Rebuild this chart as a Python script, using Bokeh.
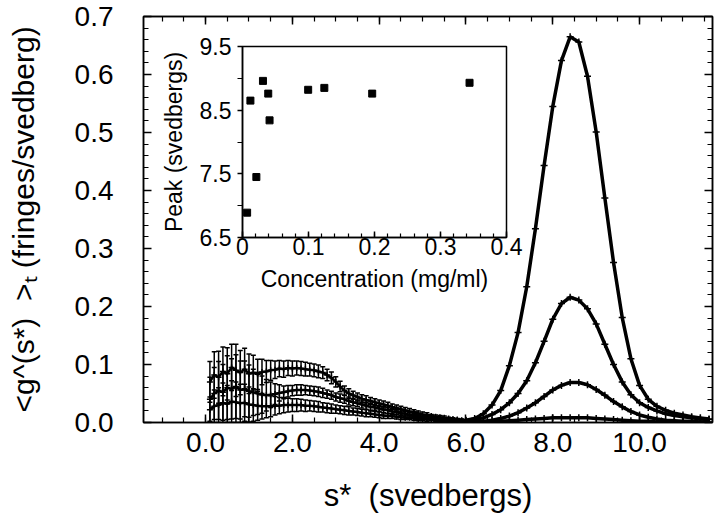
from bokeh.plotting import figure
from bokeh.models import (Range1d, FixedTicker, PrintfTickFormatter, LinearAxis,
                          Whisker, TeeHead, ColumnDataSource, CustomLabelingPolicy)
from bokeh.embed import file_html
from bokeh.resources import INLINE

FONT = "Liberation Sans"

# ---------------- main chart data ----------------
peak_s = [5.8, 6.0, 6.2, 6.4, 6.6, 6.8, 7.0, 7.2, 7.4, 7.6, 7.8, 8.0, 8.2, 8.4, 8.6,
          8.8, 9.0, 9.2, 9.4, 9.6, 9.8, 10.0, 10.2, 10.4, 10.6, 10.8, 11.0, 11.2, 11.4, 11.6]
curve_a = [0.003, 0.004, 0.007, 0.015, 0.030, 0.055, 0.098, 0.155, 0.234, 0.334, 0.443, 0.545,
           0.624, 0.665, 0.656, 0.597, 0.501, 0.387, 0.276, 0.181, 0.110, 0.064, 0.040, 0.028,
           0.021, 0.016, 0.013, 0.010, 0.008, 0.006]
curve_b = [0.002, 0.003, 0.005, 0.008, 0.014, 0.022, 0.034, 0.050, 0.072, 0.103, 0.140, 0.178,
           0.205, 0.216, 0.211, 0.196, 0.170, 0.135, 0.100, 0.070, 0.048, 0.034, 0.026, 0.020,
           0.015, 0.012, 0.010, 0.008, 0.006, 0.005]
curve_c = [0.000, 0.001, 0.001, 0.002, 0.004, 0.007, 0.011, 0.017, 0.025, 0.034, 0.045, 0.056,
           0.064, 0.069, 0.069, 0.065, 0.057, 0.047, 0.036, 0.027, 0.019, 0.013, 0.009, 0.006,
           0.004, 0.003, 0.002, 0.002, 0.001, 0.001]
curve_d = [0.000, 0.000, 0.001, 0.001, 0.001, 0.002, 0.003, 0.004, 0.005, 0.006, 0.007, 0.008,
           0.008, 0.008, 0.008, 0.008, 0.007, 0.006, 0.005, 0.004, 0.003, 0.002, 0.002, 0.001,
           0.001, 0.001, 0.001, 0.000, 0.000, 0.000]

left_s = [0.1, 0.2, 0.3, 0.4, 0.5, 0.6, 0.7, 0.8, 0.9, 1.0,
          1.1, 1.2, 1.3, 1.4, 1.5, 1.6, 1.7, 1.8, 1.9, 2.0,
          2.1, 2.2, 2.3, 2.4, 2.5, 2.6, 2.7, 2.8, 2.9, 3.0,
          3.1, 3.2, 3.3, 3.4, 3.5, 3.6, 3.7, 3.8, 3.9, 4.0,
          4.1, 4.2, 4.3, 4.4, 4.5, 4.6, 4.7, 4.8, 4.9, 5.0,
          5.1, 5.2, 5.3, 5.4, 5.5, 5.6, 5.7, 5.8, 5.9]
hump_e = [0.070, 0.082, 0.078, 0.088, 0.084, 0.095, 0.090, 0.086, 0.092, 0.084,
          0.086, 0.083, 0.087, 0.088, 0.090, 0.091, 0.093, 0.092, 0.094, 0.093,
          0.094, 0.093, 0.092, 0.091, 0.090, 0.088, 0.086, 0.082, 0.077, 0.070,
          0.062, 0.055, 0.050, 0.047, 0.044, 0.041, 0.039, 0.037, 0.035, 0.033,
          0.031, 0.029, 0.027, 0.025, 0.023, 0.021, 0.019, 0.018, 0.016, 0.014,
          0.013, 0.011, 0.010, 0.009, 0.008, 0.007, 0.006, 0.005, 0.004]
hump_e_err = [0.035, 0.040, 0.045, 0.042, 0.045, 0.040, 0.045, 0.038, 0.036, 0.034,
              0.030, 0.026, 0.022, 0.019, 0.017, 0.015, 0.014, 0.014, 0.013, 0.013,
              0.012, 0.012, 0.012, 0.011, 0.011, 0.011, 0.010, 0.010, 0.010, 0.009,
              0.009, 0.008, 0.008, 0.007, 0.007, 0.007, 0.007, 0.006, 0.006, 0.006,
              0.006, 0.006, 0.005, 0.005, 0.005, 0.005, 0.005, 0.004, 0.004, 0.004,
              0.004, 0.003, 0.003, 0.003, 0.003, 0.002, 0.002, 0.002, 0.002]
hump_f = [0.040, 0.050, 0.055, 0.052, 0.060, 0.058, 0.062, 0.056, 0.058, 0.054,
          0.052, 0.050, 0.048, 0.047, 0.048, 0.049, 0.051, 0.052, 0.054, 0.055,
          0.056, 0.056, 0.056, 0.055, 0.054, 0.053, 0.051, 0.049, 0.047, 0.044,
          0.042, 0.040, 0.037, 0.035, 0.033, 0.031, 0.029, 0.027, 0.026, 0.024,
          0.022, 0.021, 0.019, 0.018, 0.016, 0.015, 0.013, 0.012, 0.011, 0.010,
          0.009, 0.008, 0.007, 0.006, 0.005, 0.005, 0.004, 0.004, 0.003]
hump_f_err = [0.038, 0.045, 0.050, 0.048, 0.055, 0.052, 0.055, 0.050, 0.048, 0.045,
              0.040, 0.036, 0.032, 0.027, 0.022, 0.018, 0.014, 0.011, 0.010, 0.009,
              0.009, 0.009, 0.008, 0.008, 0.008, 0.008, 0.008, 0.007, 0.007, 0.007,
              0.007, 0.007, 0.007, 0.006, 0.006, 0.006, 0.006, 0.006, 0.005, 0.005,
              0.005, 0.005, 0.005, 0.004, 0.004, 0.004, 0.004, 0.003, 0.003, 0.003,
              0.003, 0.003, 0.003, 0.002, 0.002, 0.002, 0.002, 0.002, 0.002]
hump_g = [0.022, 0.028, 0.030, 0.034, 0.032, 0.036, 0.035, 0.033, 0.034, 0.031,
          0.030, 0.029, 0.028, 0.028, 0.028, 0.029, 0.029, 0.030, 0.030, 0.030,
          0.030, 0.030, 0.029, 0.029, 0.028, 0.027, 0.026, 0.025, 0.024, 0.023,
          0.022, 0.021, 0.020, 0.019, 0.018, 0.017, 0.016, 0.015, 0.014, 0.013,
          0.012, 0.011, 0.011, 0.010, 0.009, 0.008, 0.008, 0.007, 0.006, 0.006,
          0.005, 0.005, 0.004, 0.004, 0.003, 0.003, 0.003, 0.002, 0.002]
hump_g_err = [0.022, 0.028, 0.030, 0.034, 0.032, 0.036, 0.035, 0.033, 0.032, 0.030,
              0.028, 0.025, 0.022, 0.020, 0.018, 0.016, 0.014, 0.013, 0.012, 0.011,
              0.011, 0.010, 0.010, 0.009, 0.009, 0.009, 0.008, 0.008, 0.008, 0.007,
              0.007, 0.007, 0.007, 0.006, 0.006, 0.006, 0.006, 0.005, 0.005, 0.005,
              0.005, 0.004, 0.004, 0.004, 0.004, 0.003, 0.003, 0.003, 0.003, 0.003,
              0.003, 0.002, 0.002, 0.002, 0.002, 0.002, 0.002, 0.001, 0.001]

x_major = [0, 2, 4, 6, 8, 10]
y_major = [0.0, 0.1, 0.2, 0.3, 0.4, 0.5, 0.6, 0.7]

# ---------------- inset data ----------------
inset_conc = [0.007, 0.012, 0.021, 0.031, 0.039, 0.041, 0.0995, 0.124, 0.1965, 0.344]
inset_peak = [6.89, 8.65, 7.45, 8.96, 8.76, 8.34, 8.82, 8.85, 8.76, 8.93]
inset_x_major = [0, 0.1, 0.2, 0.3, 0.4]
inset_y_major = [6.5, 7.5, 8.5, 9.5]

# ---------------- main figure ----------------
p = figure(frame_width=569, frame_height=406,
           x_range=Range1d(-1.43, 11.68), y_range=Range1d(0, 0.7),
           output_backend="svg", toolbar_location=None,
           min_border_left=143, min_border_right=8, min_border_top=16, min_border_bottom=93)
p.xgrid.visible = False
p.ygrid.visible = False
p.outline_line_color = "black"
p.outline_line_width = 1.5
p.outline_line_alpha = 1.0
p.background_fill_color = "white"
p.border_fill_color = "white"

x_ticker = FixedTicker(ticks=x_major, minor_ticks=[i * 0.5 for i in range(-2, 24)])
y_ticker = FixedTicker(ticks=y_major, minor_ticks=[i * 0.02 for i in range(0, 36)])

hide_labels = CustomLabelingPolicy(code="""
    for (const i of Array.from(indices)) { indices.unset(i) }
    return indices
""")


def style_axis(ax, ticker, show_labels=True):
    ax.ticker = ticker
    ax.axis_line_color = "black"
    ax.axis_line_width = 1.5
    ax.major_tick_line_color = "black"
    ax.minor_tick_line_color = "black"
    ax.major_tick_line_width = 1.5
    ax.minor_tick_line_width = 1.2
    ax.major_tick_in = 8
    ax.major_tick_out = 0
    ax.minor_tick_in = 5
    ax.minor_tick_out = 0
    ax.major_label_text_font = FONT
    ax.major_label_text_color = "black"
    ax.formatter = PrintfTickFormatter(format="%.1f")
    if show_labels:
        ax.major_label_text_font_size = "28px"
    else:
        ax.major_label_text_font_size = "0px"
        ax.major_label_policy = hide_labels
        ax.major_label_standoff = 0


style_axis(p.xaxis[0], x_ticker)
style_axis(p.yaxis[0], y_ticker)
p.xaxis[0].major_label_standoff = 10
p.yaxis[0].major_label_standoff = 30
p.xaxis[0].axis_label = "s*\u00a0\u00a0(svedbergs)"
p.xaxis[0].axis_label_standoff = 23
p.yaxis[0].axis_label = "<g^(s*)\u00a0\u00a0>\u209c\u00a0(fringes/svedberg)"
p.yaxis[0].axis_label_standoff = 32
for ax in (p.xaxis[0], p.yaxis[0]):
    ax.axis_label_text_font = FONT
    ax.axis_label_text_font_size = "30px"
    ax.axis_label_text_font_style = "normal"
    ax.axis_label_text_color = "black"
p.xaxis[0].axis_label_text_font_size = "31px"

top_ax = LinearAxis()
style_axis(top_ax, x_ticker, show_labels=False)
p.add_layout(top_ax, "above")
right_ax = LinearAxis()
style_axis(right_ax, y_ticker, show_labels=False)
p.add_layout(right_ax, "right")

# left region: noisy data with error bars
for vals, errs in [(hump_e, hump_e_err), (hump_f, hump_f_err), (hump_g, hump_g_err)]:
    src = ColumnDataSource(dict(s=left_s, v=vals,
                                up=[v + e for v, e in zip(vals, errs)],
                                lo=[max(v - e, 0.0) for v, e in zip(vals, errs)]))
    p.add_layout(Whisker(source=src, base="s", upper="up", lower="lo",
                         line_color="black", line_width=1.5,
                         upper_head=TeeHead(size=5, line_color="black", line_width=1.5),
                         lower_head=TeeHead(size=5, line_color="black", line_width=1.5)))
    p.line("s", "v", source=src, line_color="black", line_width=2.5)
    p.scatter("s", "v", source=src, marker="cross", size=6, line_color="black", line_width=1.5)

# peak region curves
for vals in [curve_a, curve_b, curve_c, curve_d]:
    src = ColumnDataSource(dict(s=peak_s, v=vals))
    p.line("s", "v", source=src, line_color="black", line_width=3.5)
    p.scatter("s", "v", source=src, marker="cross", size=7, line_color="black", line_width=1.5)

# ---------------- inset figure ----------------
inset = figure(frame_width=264, frame_height=191,
               x_range=Range1d(0, 0.4), y_range=Range1d(6.5, 9.5),
               output_backend="svg", toolbar_location=None,
               min_border_left=90, min_border_right=20, min_border_top=12, min_border_bottom=70)
inset.styles = {"position": "absolute", "left": "152px", "top": "34px"}
inset.background_fill_alpha = 0
inset.border_fill_alpha = 0
inset.xgrid.visible = False
inset.ygrid.visible = False
inset.outline_line_color = "black"
inset.outline_line_width = 1.5
inset.outline_line_alpha = 1.0

ix = inset.xaxis[0]
ix.ticker = FixedTicker(ticks=inset_x_major, minor_ticks=[i * 0.02 for i in range(0, 21)])
ix.major_label_overrides = {0: "0"}
ix.major_tick_in = 6
ix.major_tick_out = 0
ix.minor_tick_in = 4
ix.minor_tick_out = 0
ix.major_label_standoff = 0
ix.axis_label = "Concentration (mg/ml)"
ix.axis_label_standoff = 8

iy = inset.yaxis[0]
iy.ticker = FixedTicker(ticks=inset_y_major, minor_ticks=[7.0, 8.0, 9.0])
iy.formatter = PrintfTickFormatter(format="%.1f")
iy.major_tick_in = 0
iy.major_tick_out = 5
iy.minor_tick_in = 0
iy.minor_tick_out = 5
iy.major_label_standoff = 6
iy.axis_label = "Peak (svedbergs)"
iy.axis_label_standoff = 10

for ax in (ix, iy):
    ax.axis_line_color = "black"
    ax.axis_line_width = 1.5
    ax.major_tick_line_color = "black"
    ax.minor_tick_line_color = "black"
    ax.major_tick_line_width = 1.5
    ax.minor_tick_line_width = 1.2
    ax.major_label_text_font = FONT
    ax.major_label_text_font_size = "23px"
    ax.major_label_text_color = "black"
    ax.axis_label_text_font = FONT
    ax.axis_label_text_font_size = "23px"
    ax.axis_label_text_font_style = "normal"
    ax.axis_label_text_color = "black"

inset.scatter(inset_conc, inset_peak, marker="square", size=7, fill_color="black", line_color="black")

open("out.html", "w").write(file_html([p, inset], INLINE))
